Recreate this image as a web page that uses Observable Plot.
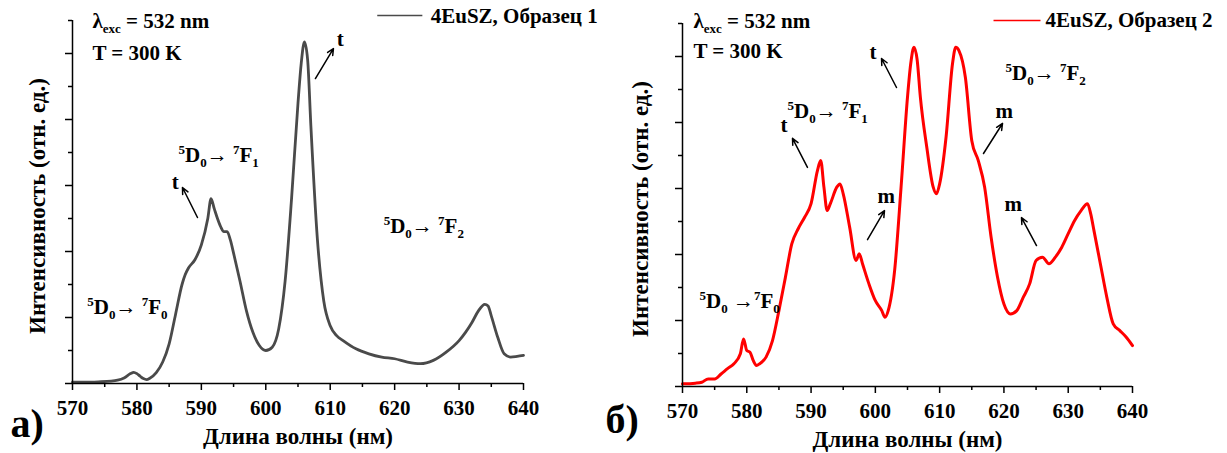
<!DOCTYPE html>
<html><head><meta charset="utf-8">
<script src="https://cdn.jsdelivr.net/npm/d3@7"></script>
<script src="https://cdn.jsdelivr.net/npm/@observablehq/plot@0.6"></script>
<style>
body{margin:0;background:#fff;}
#wrap{position:relative;width:1227px;height:453px;overflow:hidden;background:#fff;}
#wrap svg{position:absolute;top:0;overflow:visible;font-family:'Liberation Serif','Times New Roman',serif !important;}
#wrap svg text, #wrap svg g{font-family:'Liberation Serif','Times New Roman',serif !important;}
</style></head><body><div id="wrap"></div>
<script>
// ---- data: sample 1 (black/grey) ----
const wl1 = [570,572,574,576,577,578,579,579.5,580,580.5,581,581.5,582,583,584,585,586,587,587.5,588,589,590,591,591.5,592,592.5,593,593.5,594,594.5,595,596,597,598,599,600,601,602,603,604,605,605.5,606,606.5,607,608,609,610,611,612,614,616,618,620,622,624,626,628,630,631,632,633,634,634.5,635,636,637,638,639,640];
const int1 = [0.04,0.04,0.05,0.07,0.1,0.17,0.3,0.34,0.3,0.22,0.15,0.12,0.16,0.33,0.65,1.2,2.1,3.0,3.3,3.5,3.75,4.2,5.0,5.6,5.3,5.0,4.75,4.6,4.6,4.35,3.95,3.1,2.2,1.55,1.15,1.0,1.1,1.65,3.1,5.6,8.5,9.7,10.35,9.8,7.8,4.4,2.5,1.75,1.45,1.3,1.05,0.9,0.8,0.75,0.65,0.6,0.7,0.95,1.3,1.55,1.85,2.2,2.4,2.35,2.05,1.4,0.9,0.8,0.82,0.85];
// ---- data: sample 2 (red) ----
const wl2 = [570,572,573,574,575,576,577,578,579,579.5,580,580.5,581,581.5,582,583,584,585,586,587,588,589,590,591,591.5,592,592.5,593,594,594.5,595,596,597,597.5,598,599,600,601,601.5,602,603,604,605,605.5,606,606.5,607,608,609,609.5,610,611,612,612.5,613,614,615,616,617,618,619,620,621,622,623,624,625,626,627,628,629,630,631,632,633,633.5,634,635,636,637,638,639,640];
const int2 = [0.08,0.1,0.13,0.23,0.23,0.38,0.54,0.69,0.99,1.44,1.09,1.04,0.79,0.64,0.69,0.89,1.39,2.3,3.3,4.32,4.78,5.13,5.54,6.55,6.85,6.04,5.33,5.54,6.04,6.14,5.84,4.83,3.82,4.02,3.72,3.11,2.6,2.3,2.1,2.3,3.52,6.04,8.77,9.78,10.28,9.9,8.77,7.25,6.04,5.84,6.14,7.56,9.78,10.28,10.18,9.37,7.45,6.85,6.04,4.53,3.32,2.5,2.2,2.3,2.7,3.11,3.82,3.92,3.72,3.92,4.22,4.63,5.03,5.33,5.54,5.23,4.73,3.72,2.71,1.9,1.7,1.5,1.24];

// ---- axes ----
const xMajor = [570,580,590,600,610,620,630,640];
const xMinor = [575,585,595,605,615,625,635];
const yMajor = [0,2,4,6,8,10];
const yMinor = [1,3,5,7,9,11];
const xTitle = "Длина волны (нм)";
const yTitle = "Интенсивность (отн. ед.)";

// ---- texts ----
const legend1 = "4EuSZ, Образец 1";
const legend2 = "4EuSZ, Образец 2";
const notes1 = [
  {x:573.1, y:10.76, t:"λ{_exc} = 532 nm"},
  {x:573.1, y:9.79, t:"T = 300 K"},
  {x:572.3, y:2.12, t:"{^5}D{_0}→ {^7}F{_0}"},
  {x:586.45, y:6.7, t:"{^5}D{_0}→ {^7}F{_1}"},
  {x:618.3, y:4.55, t:"{^5}D{_0}→ {^7}F{_2}"},
  {x:585.4, y:5.9, t:"t"},
  {x:611.0, y:10.24, t:"t"}
];
const arrows1 = [
  {x1:589.4, y1:5.03, x2:587.07, y2:5.94},
  {x1:607.7, y1:9.24, x2:610.5, y2:10.15}
];
const notes2 = [
  {x:571.71, y:10.85, t:"λ{_exc} = 532 nm"},
  {x:571.71, y:9.94, t:"T = 300 K"},
  {x:572.64, y:2.39, t:"{^5}D{_0} →{^7}F{_0}"},
  {x:586.33, y:8.15, t:"{^5}D{_0}→ {^7}F{_1}"},
  {x:620.24, y:9.3, t:"{^5}D{_0}→ {^7}F{_2}"},
  {x:585.24, y:7.7, t:"t"},
  {x:600.33, y:5.55, t:"m"},
  {x:599.09, y:9.91, t:"t"},
  {x:618.69, y:8.15, t:"m"},
  {x:620.09, y:5.33, t:"m"}
];
const arrows2 = [
  {x1:589.44, y1:6.64, x2:587.11, y2:7.52},
  {x1:598.78, y1:4.45, x2:601.42, y2:5.33},
  {x1:603.29, y1:9.06, x2:600.96, y2:9.94},
  {x1:616.82, y1:7.06, x2:619.78, y2:7.97},
  {x1:625.07, y1:4.27, x2:622.73, y2:5.12}
];

const FONT = "'Liberation Serif', 'Times New Roman', serif";

function panel(cfg) {
  const data = cfg.wl.map((w, i) => ({w, v: cfg.iv[i]}));
  return Plot.plot({
    width: cfg.width, height: 453,
    marginLeft: cfg.ml, marginRight: cfg.mr, marginTop: cfg.mt, marginBottom: 453 - cfg.mt - 363,
    x: {domain: [570, 640]},
    y: {domain: [0, 11]},
    style: {fontFamily: FONT, fontSize: "20px", fontWeight: "bold", color: "#000", background: "transparent", overflow: "visible"},
    marks: [
      Plot.line(data, {x: "w", y: "v", stroke: cfg.color, strokeWidth: cfg.sw, curve: "monotone-x"}),
      Plot.ruleY([0], {stroke: "#000", strokeWidth: 1.5}),
      Plot.ruleX([570], {stroke: "#000", strokeWidth: 1.5}),
      Plot.axisX(xMajor, {tickSize: 7, tickPadding: 10, tickFormat: d => String(d), label: null, strokeWidth: 1.5, fontSize: 21, fontWeight: "bold", fontFamily: FONT}),
      Plot.axisX(xMinor, {tickSize: 4, tickFormat: () => "", label: null, strokeWidth: 1.5}),
      Plot.axisY(yMajor, {tickSize: 7, tickFormat: () => "", label: null, strokeWidth: 1.5}),
      Plot.axisY(yMinor, {tickSize: 4, tickFormat: () => "", label: null, strokeWidth: 1.5}),
      Plot.text([xTitle], {text: d => d, frameAnchor: "bottom", textAnchor: "middle", dy: 60, lineAnchor: "bottom", fontSize: 23, fontWeight: "bold", fontFamily: FONT}),
      Plot.text([yTitle], {text: d => d, frameAnchor: "left", textAnchor: "middle", rotate: -90, dx: cfg.ytdx, dy: 4, lineAnchor: "bottom", fontSize: 23, fontWeight: "bold", fontFamily: FONT}),
      Plot.text([cfg.letter], {text: d => d, frameAnchor: "bottom-left", dx: cfg.ldx, dy: cfg.ldy, textAnchor: "start", lineAnchor: "bottom", fontSize: 40, fontWeight: "bold", fontFamily: FONT}),
      Plot.link([cfg.legend], {x1: () => cfg.lx1, x2: () => cfg.lx2, y1: () => cfg.ly, y2: () => cfg.ly, stroke: cfg.color, strokeWidth: 1.6}),
      Plot.text([cfg.legend], {x: () => cfg.ltx, y: () => cfg.lty, text: d => d, textAnchor: "start", lineAnchor: "bottom", fontSize: 21, fontWeight: "bold", fontFamily: FONT}),
      Plot.arrow(cfg.arrows, {x1: "x1", y1: "y1", x2: "x2", y2: "y2", stroke: "#000", strokeWidth: 1.5, headLength: 7, headAngle: 50}),
      Plot.text(cfg.notes, {x: "x", y: "y", text: "t", textAnchor: "start", lineAnchor: "bottom", fontSize: 21, fontWeight: "bold", fontFamily: FONT})
    ]
  });
}

function richify(svg) {
  d3.select(svg).selectAll("text").each(function() {
    const s = this.textContent;
    if (!/\{[\^_]/.test(s)) return;
    const segs = [];
    const re = /\{([\^_])([^}]*)\}/g;
    let last = 0, m;
    while ((m = re.exec(s))) {
      if (m.index > last) segs.push({t: s.slice(last, m.index), mode: 0});
      segs.push({t: m[2], mode: m[1] === "^" ? -1 : 1});
      last = re.lastIndex;
    }
    if (last < s.length) segs.push({t: s.slice(last), mode: 0});
    const el = d3.select(this);
    el.text(null);
    let cur = 0;
    for (const g of segs) {
      const target = g.mode === -1 ? -8 : g.mode === 1 ? 5 : 0;
      const ts = el.append("tspan").attr("dy", target - cur).text(g.t);
      if (g.mode !== 0) ts.attr("font-size", 13);
      cur = target;
    }
  });
}

const wrap = document.getElementById("wrap");
const p1 = panel({wl: wl1, iv: int1, color: "#4a4a4a", sw: 2.8, width: 640, ml: 72, mr: 117, mt: 20,
  ytdx: -28, ldx: -62, ldy: 53, letter: "а)", legend: legend1,
  lx1: 617.3, lx2: 624.3, ly: 11.15, ltx: 625.6, lty: 10.93, notes: notes1, arrows: arrows1});
p1.style.left = "0px";
const p2 = panel({wl: wl2, iv: int2, color: "#ff0000", sw: 3, width: 627, ml: 82, mr: 95, mt: 23,
  ytdx: -35, ldx: -77, ldy: 46, letter: "б)", legend: legend2,
  lx1: 618.38, lx2: 625.69, ly: 11.09, ltx: 626.47, lty: 10.88, notes: notes2, arrows: arrows2});
p2.style.left = "600px";
wrap.appendChild(p1);
wrap.appendChild(p2);
richify(p1); richify(p2);
</script></body></html>
